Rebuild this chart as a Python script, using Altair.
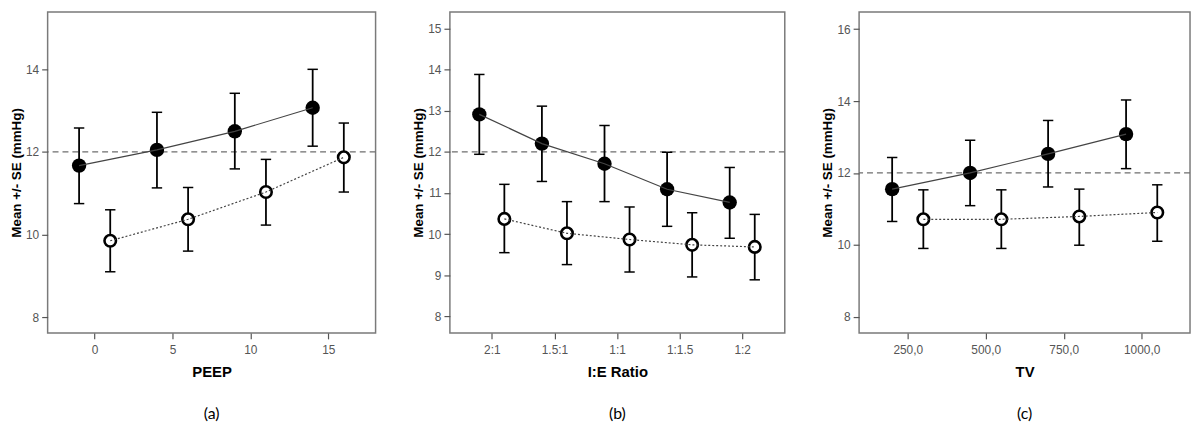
import json
import altair as alt
import pandas as pd

# ---------------- data ----------------
# (a) PEEP
a_fill_x = [-1, 4, 9, 14]
a_fill_mean = [11.67, 12.05, 12.50, 13.07]
a_fill_lo = [10.75, 11.13, 11.59, 12.14]
a_fill_hi = [12.58, 12.96, 13.42, 14.00]
a_open_x = [1, 6, 11, 16]
a_open_mean = [9.85, 10.37, 11.03, 11.87]
a_open_lo = [9.10, 9.60, 10.23, 11.03]
a_open_hi = [10.60, 11.14, 11.82, 12.70]
a_ticks = [0, 5, 10, 15]

# (b) I:E Ratio
b_categories = ["2:1", "1.5:1", "1:1", "1:1.5", "1:2"]
b_fill_mean = [12.91, 12.20, 11.71, 11.09, 10.77]
b_fill_lo = [11.94, 11.28, 10.79, 10.19, 9.90]
b_fill_hi = [13.88, 13.11, 12.64, 11.99, 11.62]
b_open_mean = [10.37, 10.02, 9.87, 9.74, 9.69]
b_open_lo = [9.55, 9.26, 9.08, 8.96, 8.89]
b_open_hi = [11.21, 10.79, 10.66, 10.52, 10.48]

# (c) TV
c_fill_x = [200, 450, 700, 950]
c_fill_mean = [11.55, 12.00, 12.53, 13.08]
c_fill_lo = [10.65, 11.09, 11.61, 12.12]
c_fill_hi = [12.43, 12.91, 13.46, 14.03]
c_open_x = [300, 550, 800, 1050]
c_open_mean = [10.71, 10.71, 10.79, 10.90]
c_open_lo = [9.90, 9.90, 9.99, 10.10]
c_open_hi = [11.53, 11.53, 11.55, 11.67]
c_ticks = [250, 500, 750, 1000]

reference_value = 12

# ---------------- helpers ----------------
def frame(x, mean, lo, hi, grp):
    return pd.DataFrame({"x": x, "mean": mean, "lo": lo, "hi": hi, "grp": grp})


LABEL_FONT = "Arial, Liberation Sans, sans-serif"


def panel(df_fill, df_open, xdom, ydom, xaxis, yticks, xtitle, caption, w, h):
    df = pd.concat([df_fill, df_open], ignore_index=True)
    xs = alt.Scale(domain=xdom, nice=False, zero=False)
    ys = alt.Scale(domain=ydom, nice=False, zero=False)
    X = alt.X("x:Q", scale=xs, axis=xaxis, title=xtitle)
    yax = alt.Axis(values=yticks, title="Mean +/- SE (mmHg)")

    ref = alt.Chart(pd.DataFrame({"y": [reference_value]})).mark_rule(
        color="#6e6e6e", strokeWidth=1.3, strokeDash=[6, 4]
    ).encode(y=alt.Y("y:Q", scale=ys, axis=yax))

    err = alt.Chart(df).mark_rule(color="black", strokeWidth=1.8).encode(
        x=X, y=alt.Y("lo:Q", scale=ys, axis=yax), y2="hi:Q"
    )
    caps = alt.Chart(df).transform_fold(["lo", "hi"], as_=["k", "v"]).mark_point(
        shape="stroke", size=110, color="black", strokeWidth=1.5, opacity=1
    ).encode(x=X, y=alt.Y("v:Q", scale=ys, axis=yax))

    filled_pts = alt.Chart(df_fill).mark_point(
        shape="circle", filled=True, color="black", size=210, opacity=1
    ).encode(x=X, y=alt.Y("mean:Q", scale=ys, axis=yax))
    open_pts = alt.Chart(df_open).mark_point(
        shape="circle", filled=False, fill="white", fillOpacity=1,
        stroke="black", strokeWidth=2.6, size=135, opacity=1
    ).encode(x=X, y=alt.Y("mean:Q", scale=ys, axis=yax))

    line_fill = alt.Chart(df_fill).mark_line(color="#444444", strokeWidth=1.2).encode(
        x=X, y=alt.Y("mean:Q", scale=ys, axis=yax)
    )
    line_open = alt.Chart(df_open).mark_line(
        color="#444444", strokeWidth=1.2, strokeDash=[2, 2]
    ).encode(x=X, y=alt.Y("mean:Q", scale=ys, axis=yax))

    return alt.layer(
        ref, err, caps, filled_pts, open_pts, line_fill, line_open
    ).properties(
        width=w, height=h,
        title=alt.TitleParams(
            caption, orient="bottom", font="Lato", fontSize=16,
            fontWeight="normal", color="black", offset=27, frame="group",
            anchor="middle",
        ),
    )


# ---------------- panels ----------------
A = panel(
    frame(a_fill_x, a_fill_mean, a_fill_lo, a_fill_hi, "filled"),
    frame(a_open_x, a_open_mean, a_open_lo, a_open_hi, "open"),
    [-3.02, 18.04], [7.62, 15.39],
    alt.Axis(values=a_ticks), [8, 10, 12, 14], "PEEP", "(a)", 331, 324,
)

b_idx = list(range(1, len(b_categories) + 1))
B = panel(
    frame([i - 0.2 for i in b_idx], b_fill_mean, b_fill_lo, b_fill_hi, "filled"),
    frame([i + 0.2 for i in b_idx], b_open_mean, b_open_lo, b_open_hi, "open"),
    [0.33, 5.68], [7.6, 15.4],
    alt.Axis(values=b_idx,
             labelExpr=json.dumps([""] + b_categories) + "[datum.value]"),
    [8, 9, 10, 11, 12, 13, 14, 15], "I:E Ratio", "(b)", 338, 324,
)

C = panel(
    frame(c_fill_x, c_fill_mean, c_fill_lo, c_fill_hi, "filled"),
    frame(c_open_x, c_open_mean, c_open_lo, c_open_hi, "open"),
    [94, 1155], [7.55, 16.48],
    alt.Axis(values=c_ticks,
             labelExpr="replace(format(datum.value, '.1f'), '.', ',')"),
    [8, 10, 12, 14, 16], "TV", "(c)", 334, 324,
)

chart = alt.hconcat(A, B, C, spacing=33).resolve_scale(
    x="independent", y="independent"
).properties(
    padding={"left": 0, "top": 1, "right": 0, "bottom": 0}
).configure_view(
    stroke="#7a7a7a", strokeWidth=1.5
).configure_axis(
    domain=False, grid=False,
    ticks=True, tickColor="#555555", tickSize=6, tickWidth=1.2,
    labelColor="#555555", labelFont=LABEL_FONT, labelFontSize=12,
    titleFont=LABEL_FONT, titleFontWeight="bold", titleColor="black",
).configure_axisX(
    titleFontSize=15, titlePadding=9, labelPadding=6,
).configure_axisY(
    titleFontSize=13.5, titlePadding=2, labelPadding=3,
)

chart.save("out.html", embed_options={"renderer": "svg", "actions": False})
